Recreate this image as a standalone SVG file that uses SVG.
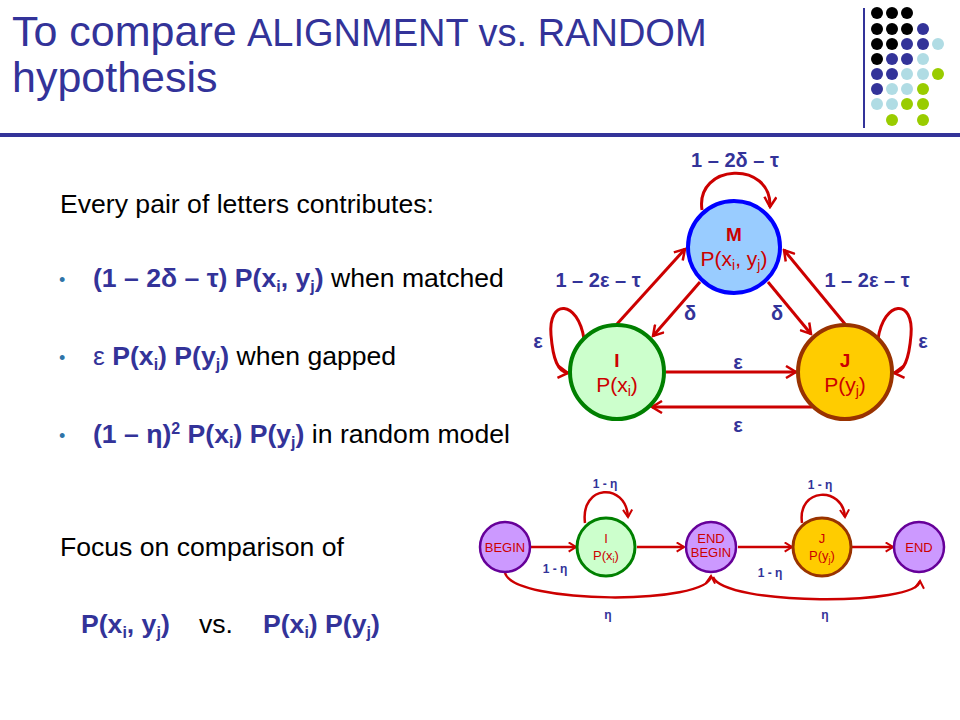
<svg xmlns="http://www.w3.org/2000/svg" width="960" height="720" viewBox="0 0 960 720">
<style>
.t{font-family:"Liberation Sans",Arial,sans-serif;fill:#333399}
.body{font-family:"Liberation Sans",Arial,sans-serif;font-size:26.6px;fill:#000}
.bb{font-weight:bold;fill:#333399}
.bul{font-family:"Liberation Sans",Arial,sans-serif;font-size:18px;fill:#2E74A8}
.lbl{font-family:"Liberation Sans",Arial,sans-serif;font-size:20px;font-weight:bold;fill:#333399;text-anchor:middle}
.lbs{font-family:"Liberation Sans",Arial,sans-serif;font-size:12px;font-weight:bold;fill:#333399;text-anchor:middle}
.nt{font-family:"Liberation Sans",Arial,sans-serif;fill:#CC0000;text-anchor:middle}
.edge{fill:none;stroke:#CC0000;stroke-width:3}
.edge2{fill:none;stroke:#CC0000;stroke-width:2.5}
.dk{fill:#000}.db{fill:#333399}.dl{fill:#B0DCE4}.dg{fill:#99CC00}
</style>
<defs>
<marker id="ah" viewBox="0 0 14 14" refX="12" refY="7" markerWidth="14" markerHeight="14" markerUnits="userSpaceOnUse" orient="auto"><path d="M2,1 L12,7 L2,13" fill="none" stroke="#CC0000" stroke-width="2.5"/></marker>
<marker id="as" viewBox="0 0 12 12" refX="10" refY="6" markerWidth="11" markerHeight="11" markerUnits="userSpaceOnUse" orient="auto"><path d="M2,1 L10,6 L2,11" fill="none" stroke="#CC0000" stroke-width="2.2"/></marker>
</defs>
<rect width="960" height="720" fill="#fff"/>

<g id="title">
<text class="t" x="12" y="46" font-size="43">To compare</text>
<text class="t" x="247" y="46" font-size="38">ALIGNMENT vs. RANDOM</text>
<text class="t" x="12" y="92" font-size="43">hypothesis</text>
<rect x="0" y="133" width="960" height="4" fill="#333399"/>
<rect x="863" y="8" width="2" height="120" fill="#333399"/>
</g>

<g id="dots">
<circle class="dk" cx="877" cy="13" r="6"/><circle class="dk" cx="892" cy="13" r="6"/><circle class="dk" cx="907" cy="13" r="6"/>
<circle class="dk" cx="877" cy="29" r="6"/><circle class="dk" cx="892" cy="29" r="6"/><circle class="dk" cx="907" cy="29" r="6"/><circle class="db" cx="923" cy="29" r="6"/>
<circle class="dk" cx="877" cy="44" r="6"/><circle class="dk" cx="892" cy="44" r="6"/><circle class="db" cx="907" cy="44" r="6"/><circle class="db" cx="923" cy="44" r="6"/><circle class="dl" cx="938" cy="44" r="6"/>
<circle class="dk" cx="877" cy="59" r="6"/><circle class="db" cx="892" cy="59" r="6"/><circle class="db" cx="907" cy="59" r="6"/><circle class="dl" cx="923" cy="59" r="6"/>
<circle class="db" cx="877" cy="74" r="6"/><circle class="db" cx="892" cy="74" r="6"/><circle class="dl" cx="907" cy="74" r="6"/><circle class="dl" cx="923" cy="74" r="6"/><circle class="dg" cx="938" cy="74" r="6"/>
<circle class="db" cx="877" cy="89" r="6"/><circle class="dl" cx="892" cy="89" r="6"/><circle class="dl" cx="907" cy="89" r="6"/><circle class="dg" cx="923" cy="89" r="6"/>
<circle class="dl" cx="877" cy="104" r="6"/><circle class="dl" cx="892" cy="104" r="6"/><circle class="dg" cx="907" cy="104" r="6"/><circle class="dg" cx="923" cy="104" r="6"/>
<circle class="dg" cx="892" cy="120" r="6"/><circle class="dg" cx="923" cy="120" r="6"/>
</g>

<g id="text-body">
<text class="body" x="60" y="213">Every pair of letters contributes:</text>
<text class="bul" x="59" y="286">•</text>
<text class="body" x="93" y="287"><tspan class="bb">(1 – 2δ – τ) P(x<tspan font-size="16" dy="5">i</tspan><tspan dy="-5">, y</tspan><tspan font-size="16" dy="5">j</tspan><tspan dy="-5">)</tspan></tspan> when matched</text>
<text class="bul" x="59" y="364">•</text>
<text class="body" x="93" y="365"><tspan fill="#333399">ε </tspan><tspan class="bb">P(x<tspan font-size="16" dy="5">i</tspan><tspan dy="-5">) P(y</tspan><tspan font-size="16" dy="5">j</tspan><tspan dy="-5">)</tspan></tspan> when gapped</text>
<text class="bul" x="59" y="442">•</text>
<text class="body" x="93" y="443"><tspan class="bb">(1 – η)<tspan font-size="16" dy="-9">2</tspan><tspan dy="9"> P(x</tspan><tspan font-size="16" dy="5">i</tspan><tspan dy="-5">) P(y</tspan><tspan font-size="16" dy="5">j</tspan><tspan dy="-5">)</tspan></tspan> in random model</text>
<text class="body" x="60" y="556">Focus on comparison of</text>
<text class="body" x="81" y="633"><tspan class="bb">P(x<tspan font-size="16" dy="5">i</tspan><tspan dy="-5">, y</tspan><tspan font-size="16" dy="5">j</tspan><tspan dy="-5">)</tspan></tspan></text>
<text class="body" x="199" y="633">vs.</text>
<text class="body" x="263" y="633"><tspan class="bb">P(x<tspan font-size="16" dy="5">i</tspan><tspan dy="-5">) P(y</tspan><tspan font-size="16" dy="5">j</tspan><tspan dy="-5">)</tspan></tspan></text>
</g>

<g id="connectors">
<path class="edge" marker-end="url(#ah)" d="M702,210 C695,163 772,160 770,207"/>
<path class="edge" marker-end="url(#ah)" d="M617,324 L685,249"/>
<path class="edge" marker-end="url(#ah)" d="M700,282 L653,336"/>
<path class="edge" marker-end="url(#ah)" d="M768,282 L811,334"/>
<path class="edge" marker-end="url(#ah)" d="M845,324 L784,250"/>
<path class="edge" marker-end="url(#ah)" d="M584,339 C578,300 548,298 551,335 C553,360 558,372 568,373"/>
<path class="edge" marker-end="url(#ah)" d="M878,339 C884,300 914,298 911,335 C909,360 904,372 894,373"/>
<path class="edge" marker-end="url(#ah)" d="M666,372 L796,372"/>
<path class="edge" marker-end="url(#ah)" d="M812,407 L652,407"/>

<path class="edge2" marker-end="url(#as)" d="M531,547 L576,547"/>
<path class="edge2" marker-end="url(#as)" d="M637,547 L684,547"/>
<path class="edge2" marker-end="url(#as)" d="M738,547 L792,547"/>
<path class="edge2" marker-end="url(#as)" d="M852,547 L893,547"/>
<path class="edge2" marker-end="url(#as)" d="M585,523 C580,484 626,482 628,517"/>
<path class="edge2" marker-end="url(#as)" d="M802,523 C797,487 843,486 845,517"/>
<path class="edge2" marker-end="url(#as)" d="M505,573 C515,605 709,605 711,576"/>
<path class="edge2" marker-end="url(#as)" d="M713,577 C725,606 918,606 920,581"/>
</g>

<g id="labels">
<text class="lbl" x="735" y="167">1 – 2δ – τ</text>
<text class="lbl" x="598" y="287">1 – 2ε – τ</text>
<text class="lbl" x="867" y="287">1 – 2ε – τ</text>
<text class="lbl" x="690" y="320">δ</text>
<text class="lbl" x="777" y="320">δ</text>
<text class="lbl" x="538" y="348">ε</text>
<text class="lbl" x="923" y="348">ε</text>
<text class="lbl" x="738" y="369">ε</text>
<text class="lbl" x="738" y="432">ε</text>
<text class="lbs" x="605" y="488">1 - η</text>
<text class="lbs" x="820" y="489">1 - η</text>
<text class="lbs" x="555" y="573">1 - η</text>
<text class="lbs" x="770" y="577">1 - η</text>
<text class="lbs" x="608" y="619">η</text>
<text class="lbs" x="825" y="619">η</text>
</g>

<g id="node-M">
<circle cx="734" cy="247" r="46" fill="#99CCFF" stroke="#0000FF" stroke-width="4"/>
<text class="nt" x="734" y="241" font-size="19" font-weight="bold">M</text>
<text class="nt" x="734" y="266" font-size="21">P(x<tspan font-size="14" dy="4">i</tspan><tspan dy="-4">, y</tspan><tspan font-size="14" dy="4">j</tspan><tspan dy="-4">)</tspan></text>
</g>
<g id="node-I">
<circle cx="617" cy="372" r="47" fill="#CCFFCC" stroke="#008000" stroke-width="4"/>
<text class="nt" x="617" y="367" font-size="19" font-weight="bold">I</text>
<text class="nt" x="617" y="392" font-size="21">P(x<tspan font-size="14" dy="4">i</tspan><tspan dy="-4">)</tspan></text>
</g>
<g id="node-J">
<circle cx="845" cy="372" r="47" fill="#FFCC00" stroke="#993300" stroke-width="4"/>
<text class="nt" x="845" y="367" font-size="19" font-weight="bold">J</text>
<text class="nt" x="845" y="392" font-size="21">P(y<tspan font-size="14" dy="4">j</tspan><tspan dy="-4">)</tspan></text>
</g>

<g id="node-BEGIN">
<circle cx="505" cy="547" r="25" fill="#CC99FF" stroke="#660099" stroke-width="2.5"/>
<text class="nt" x="505" y="552" font-size="13">BEGIN</text>
</g>
<g id="node-I2">
<circle cx="606" cy="547" r="29" fill="#CCFFCC" stroke="#008000" stroke-width="3"/>
<text class="nt" x="606" y="543" font-size="13">I</text>
<text class="nt" x="606" y="560" font-size="13">P(x<tspan font-size="9" dy="3">i</tspan><tspan dy="-3">)</tspan></text>
</g>
<g id="node-ENDBEGIN">
<circle cx="711" cy="547" r="25" fill="#CC99FF" stroke="#660099" stroke-width="2.5"/>
<text class="nt" x="711" y="543" font-size="13">END</text>
<text class="nt" x="711" y="557" font-size="13">BEGIN</text>
</g>
<g id="node-J2">
<circle cx="822" cy="547" r="29" fill="#FFCC00" stroke="#993300" stroke-width="3"/>
<text class="nt" x="822" y="543" font-size="13">J</text>
<text class="nt" x="822" y="560" font-size="13">P(y<tspan font-size="9" dy="3">j</tspan><tspan dy="-3">)</tspan></text>
</g>
<g id="node-END">
<circle cx="919" cy="547" r="25" fill="#CC99FF" stroke="#660099" stroke-width="2.5"/>
<text class="nt" x="919" y="552" font-size="13">END</text>
</g>
</svg>
